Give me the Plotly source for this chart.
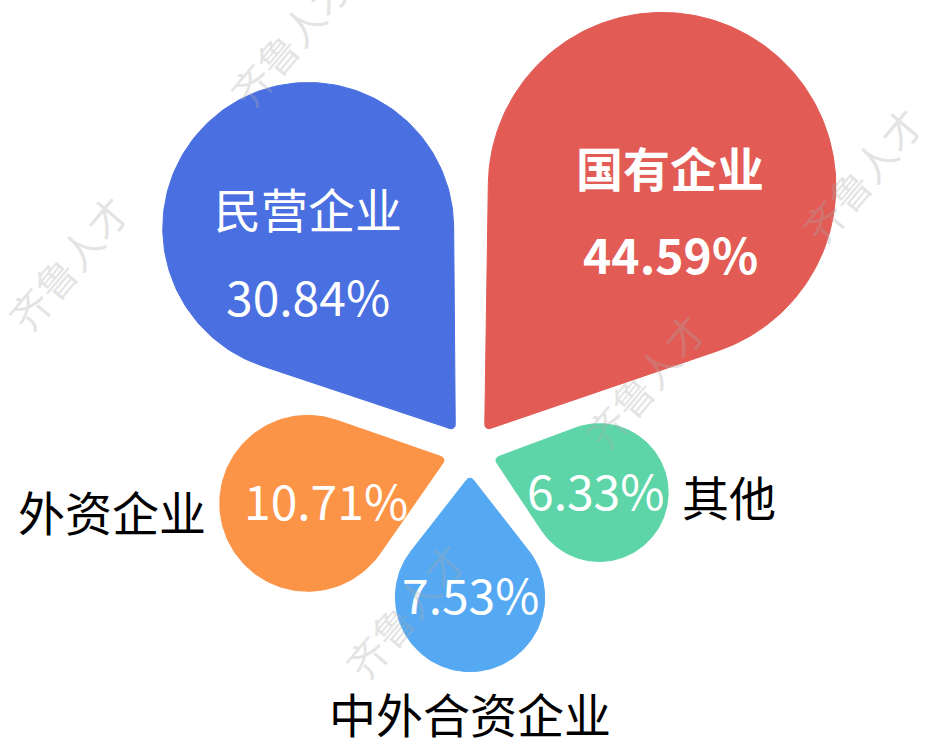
import numpy as np
import plotly.graph_objects as go

# data
names = ["中外合资企业", "其他", "国有企业", "民营企业", "外资企业"]
shares = [7.53, 6.33, 44.59, 30.84, 10.71]
colors = ["#55A9F2", "#5ED5A9", "#E25B55", "#4A6FE0", "#FC9447"]
watermark = "齐鲁人才"

W, H = 944, 741
CX, CY = 470, H - 450.6          # centre the drops radiate from (y up)
TIP_GAP = 25                      # tip distance from centre
FILLET = 4
# small horizontal nudges of the labels inside the drops
NUDGE = {"国有企业": 8, "外资企业": 18, "其他": -4}


def drop(value, angle_deg):
    r = 5.5 + 25.2 * np.sqrt(value)
    dist = 10.5 + 1.82 * r
    a = np.radians(angle_deg)
    ux, uy = np.cos(a), np.sin(a)
    px, py = CX + dist * ux, CY + dist * uy
    tx, ty = CX + TIP_GAP * ux, CY + TIP_GAP * uy
    d = dist - TIP_GAP
    beta = np.arccos(r / d)
    back = a + np.pi  # direction from circle centre to tip
    arc = np.linspace(back + beta, back + 2 * np.pi - beta, 160)
    xs = list(px + r * np.cos(arc))
    ys = list(py + r * np.sin(arc))
    # rounded tip
    alpha = np.arcsin(r / d)
    fc = FILLET / np.sin(alpha)
    fx, fy = tx + fc * ux, ty + fc * uy
    t = np.linspace(back - (np.pi / 2 - alpha), back + (np.pi / 2 - alpha), 20)
    xs += list(fx + FILLET * np.cos(t))
    ys += list(fy + FILLET * np.sin(t))
    xs.append(xs[0])
    ys.append(ys[0])
    return xs, ys, px, py, r


fig = go.Figure()
annotations = []
cjk = "Noto Sans CJK SC"

for i, (name, val, col) in enumerate(zip(names, shares, colors)):
    ang = (270 + 72 * i) % 360
    xs, ys, px, py, r = drop(val, ang)
    fig.add_trace(go.Scatter(
        x=xs, y=ys, mode="lines", fill="toself", fillcolor=col,
        line=dict(color=col, width=1), hoverinfo="skip", showlegend=False,
    ))
    pct = f"{val:.2f}%"
    lx = px + NUDGE.get(name, 0)
    if val > 20:
        bold = val > 40
        t1 = f"<b>{name}</b>" if bold else name
        t2 = f"<b>{pct}</b>" if bold else pct
        annotations.append(dict(x=lx, y=py + 20, text=t1, showarrow=False,
                                font=dict(family=cjk, size=47, color="white")))
        annotations.append(dict(x=lx, y=py - 67, text=t2, showarrow=False,
                                font=dict(family=cjk, size=48, color="white")))
    else:
        annotations.append(dict(x=lx, y=py + 4, text=pct, showarrow=False,
                                font=dict(family=cjk, size=48, color="white")))
        c = np.cos(np.radians(ang))
        if c < -0.5:
            pos = dict(x=px - r - 12, y=py - 7, xanchor="right")
        elif c > 0.5:
            pos = dict(x=px + r + 12, y=py - 3, xanchor="left")
        else:
            pos = dict(x=px, y=py - r - 4, yanchor="top")
        annotations.append(dict(text=name, showarrow=False,
                                font=dict(family=cjk, size=47, color="black"), **pos))

# faint diagonal watermark
for wx, wy in [(68, 478), (290, 702), (645, 360), (862, 566), (405, 130)]:
    annotations.append(dict(x=wx, y=wy, text=watermark, showarrow=False, textangle=-50,
                            font=dict(family=cjk, size=40, color="rgba(170,170,170,0.33)")))

fig.update_layout(
    width=W, height=H,
    margin=dict(l=0, r=0, t=0, b=0),
    paper_bgcolor="white", plot_bgcolor="white",
    xaxis=dict(range=[0, W], visible=False),
    yaxis=dict(range=[0, H], visible=False),
    annotations=annotations,
)
fig.write_html("out.html", config={"displayModeBar": False},
               post_script="document.body.style.margin='0';")
